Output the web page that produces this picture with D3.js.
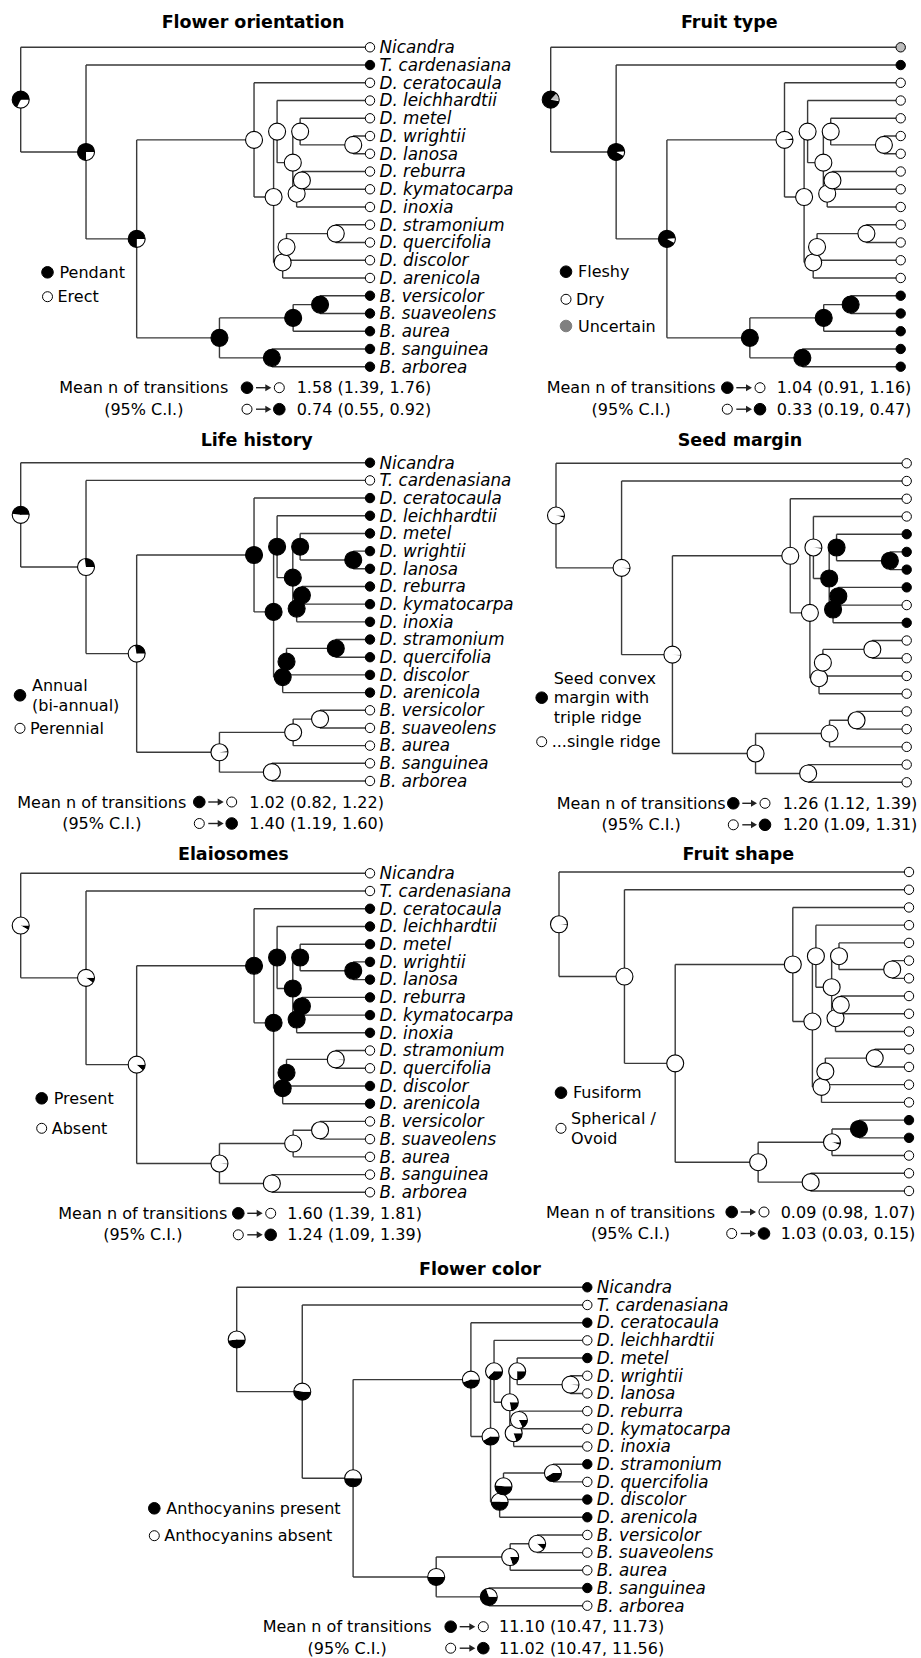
<!DOCTYPE html>
<html><head><meta charset="utf-8">
<script src="https://cdn.jsdelivr.net/npm/d3@7"></script>
<style>
body{margin:0;background:#fff}
text{font-family:"DejaVu Sans",Verdana,sans-serif;fill:#000}
</style>
</head><body>
<svg id="c" width="921" height="1658"></svg>
<script>
// ---------------- DATA ----------------
const taxa = ["Nicandra","T. cardenasiana","D. ceratocaula","D. leichhardtii","D. metel","D. wrightii","D. lanosa","D. reburra","D. kymatocarpa","D. inoxia","D. stramonium","D. quercifolia","D. discolor","D. arenicola","B. versicolor","B. suaveolens","B. aurea","B. sanguinea","B. arborea"];
const nodeIds = ["root","n2","n3","dat","datSub","leich","metRe","metel","wrLa","rebA","rebB","low1","low2","stQu","brug","brugA","veSu","saAr"];
const nodeDepth = [0,0.187,0.332,0.668,0.724,0.734,0.779,0.800,0.952,0.790,0.805,0.750,0.761,0.902,0.569,0.780,0.857,0.719];
const nodeChildren = [
  ["Nicandra","n2"],["T. cardenasiana","n3"],["dat","brug"],["D. ceratocaula","datSub"],
  ["leich","low1"],["D. leichhardtii","metRe"],["metel","rebA"],["D. metel","wrLa"],
  ["D. wrightii","D. lanosa"],["rebB","D. inoxia"],["D. reburra","D. kymatocarpa"],
  ["low2","D. arenicola"],["stQu","D. discolor"],["D. stramonium","D. quercifolia"],
  ["brugA","saAr"],["veSu","B. aurea"],["B. versicolor","B. suaveolens"],["B. sanguinea","B. arborea"]
];

// panel titles
const titles = ["Flower orientation","Fruit type","Life history","Seed margin","Elaiosomes","Fruit shape","Flower color"];

// state colours per panel (slice order, starting at 3 o'clock, clockwise)
const statesFO = ["#ffffff","#000000"];           // Erect, Pendant
const statesFT = ["#ffffff","#000000","#bdbdbd"]; // Dry, Fleshy, Uncertain
const statesLH = ["#ffffff","#000000"];           // Perennial, Annual
const statesSM = ["#000000","#ffffff"];           // triple, single
const statesEL = ["#000000","#ffffff"];           // Present, Absent
const statesFS = ["#000000","#ffffff"];           // Fusiform, Spherical
const statesFC = ["#000000","#ffffff"];           // present, absent

// tip states (index into state colours)
const tipsFO = [0,1,0,0,0,0,0,0,0,0,0,0,0,0,1,1,1,1,1];
const tipsFT = [2,1,0,0,0,0,0,0,0,0,0,0,0,0,1,1,1,1,1];
const tipsLH = [1,0,1,1,1,1,1,1,1,1,1,1,1,1,0,0,0,0,0];
const tipsSM = [1,1,1,1,0,0,0,0,1,0,1,1,1,1,1,1,1,1,1];
const tipsEL = [1,1,0,0,0,0,0,0,0,0,1,1,0,0,1,1,1,1,1];
const tipsFS = [1,1,1,1,1,1,1,1,1,1,1,1,1,1,0,0,1,1,1];
const tipsFC = [0,1,0,1,0,1,1,1,1,1,0,1,0,0,1,1,1,0,1];

// node probabilities of first state (node order = nodeIds)
const nodesFO = [0.32,0.25,0.25,1,1,1,1,1,1,1,1,1,1,1,0,0,0,0];
const nodesFT = [[0.03,0.84,0.13],[0.08,0.91,0.01],[0.08,0.91,0.01],[0.97,0.03,0],[1,0,0],[1,0,0],[1,0,0],[1,0,0],[1,0,0],[1,0,0],[1,0,0],[1,0,0],[1,0,0],[1,0,0],[0,1,0],[0,1,0],[0,1,0],[0,1,0]];
const nodesLH = [0.52,0.73,0.72,0,0,0,0,0,0,0,0,0,0,0,0.98,1,1,1];
const nodesSM = [0.04,0.02,0.02,0,0,0.03,1,1,1,1,1,0,0,0,0,0,0,0];
const nodesEL = [0.08,0.10,0.12,1,1,1,1,1,1,1,1,1,1,0.02,0.02,0,0,0];
const nodesFS = [0.02,0,0,0,0,0,0,0,0,0,0,0,0,0,0,0.05,1,0];
const nodesFC = [0.48,0.53,0.50,0.45,0.42,0.38,0.22,0.25,0.02,0.20,0.18,0.50,0.52,0.42,0.50,0.20,0.12,0.70];

// legends
const legendFO = [{fill:"#000",lines:["Pendant"]},{fill:"#fff",lines:["Erect"]}];
const legendFT = [{fill:"#000",lines:["Fleshy"]},{fill:"#fff",lines:["Dry"]},{fill:"#808080",lines:["Uncertain"]}];
const legendLH = [{fill:"#000",lines:["Annual","(bi-annual)"]},{fill:"#fff",lines:["Perennial"]}];
const legendSM = [{fill:"#000",lines:["Seed convex","margin with","triple ridge"]},{fill:"#fff",lines:["...single ridge"]}];
const legendEL = [{fill:"#000",lines:["Present"]},{fill:"#fff",lines:["Absent"]}];
const legendFS = [{fill:"#000",lines:["Fusiform"]},{fill:"#fff",lines:["Spherical /","Ovoid"]}];
const legendFC = [{fill:"#000",lines:["Anthocyanins present"]},{fill:"#fff",lines:["Anthocyanins absent"]}];

// mean n of transitions [mean, lo, hi]: row1 black->white, row2 white->black
const transFO = [[1.58,1.39,1.76],[0.74,0.55,0.92]];
const transFT = [[1.04,0.91,1.16],[0.33,0.19,0.47]];
const transLH = [[1.02,0.82,1.22],[1.40,1.19,1.60]];
const transSM = [[1.26,1.12,1.39],[1.20,1.09,1.31]];
const transEL = [[1.60,1.39,1.81],[1.24,1.09,1.39]];
const transFS = [[0.09,0.98,1.07],[1.03,0.03,0.15]];
const transFC = [[11.10,10.47,11.73],[11.02,10.47,11.56]];

// ---------------- LAYOUT ----------------
const layout = [
 {x0:20.7,x1:370,y0:47.3,yN:366.7,tx:253,ty:28,labels:true,legX:47.5,legY:[272.3,296.7],meanX:59.3,symA:247,symB:279.3,numX:296.7},
 {x0:550.7,x1:900.7,y0:47.3,yN:366.7,tx:729.3,ty:28,labels:false,legX:566,legY:[271.7,299.3,326],meanX:546.7,symA:727.3,symB:760,numX:776.7},
 {x0:20.7,x1:370,y0:462.7,yN:781,tx:256.7,ty:446,labels:true,legX:20,legY:[695.3,728.3],meanX:17.3,symA:199.3,symB:231.7,numX:249.3},
 {x0:556,x1:906.7,y0:463.3,yN:782.3,tx:740,ty:446,labels:false,legX:541.7,legY:[697.7,741.7],meanX:556.7,symA:733.3,symB:765,numX:782.7},
 {x0:20.7,x1:370,y0:873.3,yN:1192.3,tx:233.3,ty:859.5,labels:true,legX:41.7,legY:[1098.3,1128.3],meanX:58.3,symA:238.3,symB:270.7,numX:287.3},
 {x0:559,x1:909,y0:872,yN:1191,tx:738.3,ty:859.5,labels:false,legX:561,legY:[1092.7,1128.3],meanX:546,symA:731.7,symB:764,numX:780.7},
 {x0:236.7,x1:587.3,y0:1287.3,yN:1605.7,tx:480,ty:1275,labels:true,legX:154.3,legY:[1508.3,1535.7],meanX:262.7,symA:450.7,symB:483.3,numX:499}
];
const panelData = [
 {states:statesFO,tips:tipsFO,nodes:nodesFO,legend:legendFO,trans:transFO},
 {states:statesFT,tips:tipsFT,nodes:nodesFT,legend:legendFT,trans:transFT},
 {states:statesLH,tips:tipsLH,nodes:nodesLH,legend:legendLH,trans:transLH},
 {states:statesSM,tips:tipsSM,nodes:nodesSM,legend:legendSM,trans:transSM},
 {states:statesEL,tips:tipsEL,nodes:nodesEL,legend:legendEL,trans:transEL},
 {states:statesFS,tips:tipsFS,nodes:nodesFS,legend:legendFS,trans:transFS},
 {states:statesFC,tips:tipsFC,nodes:nodesFC,legend:legendFC,trans:transFC}
];

const svg = d3.select("#c");
const lineColor = "#3a3a3a";
const pieR = 8.5, tipR = 4.7;
const arc = d3.arc().innerRadius(0).outerRadius(pieR);
const pie = d3.pie().sort(null).value(d => d.v).startAngle(Math.PI/2).endAngle(Math.PI/2 + 2*Math.PI);

panelData.forEach((pd, k) => {
  const L = layout[k];
  const g = svg.append("g");
  const xs = d3.scaleLinear().domain([0,1]).range([L.x0, L.x1]);
  const ys = d3.scaleLinear().domain([0, taxa.length-1]).range([L.y0, L.yN]);

  // title
  g.append("text").attr("x", L.tx).attr("y", L.ty).attr("text-anchor","middle")
    .style("font-size","17.5px").style("font-weight","bold").text(titles[k]);

  // positions
  const pos = {};
  taxa.forEach((t,i) => pos[t] = {x: xs(1), y: ys(i)});
  function place(id){
    const i = nodeIds.indexOf(id);
    const ch = nodeChildren[i];
    ch.forEach(c => { if (!pos[c]) place(c); });
    pos[id] = {x: xs(nodeDepth[i]), y: (pos[ch[0]].y + pos[ch[ch.length-1]].y)/2};
  }
  place("root");

  // branches
  const path = d3.path();
  nodeIds.forEach((id,i) => {
    const ch = nodeChildren[i];
    const p = pos[id];
    path.moveTo(p.x, pos[ch[0]].y); path.lineTo(p.x, pos[ch[ch.length-1]].y);
    ch.forEach(c => { path.moveTo(p.x, pos[c].y); path.lineTo(pos[c].x, pos[c].y); });
  });
  g.append("path").attr("d", path.toString()).attr("fill","none")
    .attr("stroke", lineColor).attr("stroke-width",1.4);

  // node pies
  nodeIds.forEach((id,i) => {
    const raw = pd.nodes[i];
    const probs = Array.isArray(raw) ? raw : [raw, 1-raw];
    const data = probs.map((v,j) => ({v, c: pd.states[j]})).filter(d => d.v > 0);
    const ng = g.append("g").attr("transform", `translate(${pos[id].x},${pos[id].y})`);
    ng.selectAll("path").data(pie(data)).join("path")
      .attr("d", arc).attr("fill", d => d.data.c).attr("stroke","none");
    ng.append("circle").attr("r", pieR).attr("fill","none").attr("stroke","#000").attr("stroke-width",1.1);
  });

  // tips
  taxa.forEach((t,i) => {
    g.append("circle").attr("cx", pos[t].x).attr("cy", pos[t].y).attr("r", tipR)
      .attr("fill", pd.states[pd.tips[i]]).attr("stroke","#000").attr("stroke-width",1);
    if (L.labels) {
      g.append("text").attr("x", pos[t].x + 9.5).attr("y", pos[t].y + 5.8)
        .style("font-size","16.8px").style("font-style","italic").text(t);
    }
  });

  // legend
  pd.legend.forEach((it, j) => {
    const cy = L.legY[j];
    const black = it.fill !== "#fff";
    g.append("circle").attr("cx", L.legX).attr("cy", cy).attr("r", black ? 5.8 : 5)
      .attr("fill", it.fill).attr("stroke", it.fill === "#fff" ? "#000" : it.fill).attr("stroke-width",1);
    const n = it.lines.length;
    it.lines.forEach((ln, m) => {
      g.append("text").attr("x", L.legX + (black ? 12 : 10))
        .attr("y", cy + 5.5 - (n-1)/2*19.5 + m*19.5)
        .style("font-size","16px").text(ln);
    });
  });

  // transitions
  const r1 = L.yN + 21, r2 = L.yN + 42.5;
  const mt = g.append("text").attr("x", L.meanX).attr("y", r1 + 5.5).style("font-size","16px").text("Mean n of transitions");
  const w = mt.node().getComputedTextLength();
  g.append("text").attr("x", L.meanX + w/2).attr("y", r2 + 5.5).attr("text-anchor","middle")
    .style("font-size","16px").text("(95% C.I.)");
  [[r1,"#000","#fff"],[r2,"#fff","#000"]].forEach(([yy, cA, cB], j) => {
    g.append("circle").attr("cx", L.symA).attr("cy", yy).attr("r", cA === "#000" ? 5.8 : 5)
      .attr("fill", cA).attr("stroke","#000").attr("stroke-width",1);
    g.append("circle").attr("cx", L.symB).attr("cy", yy).attr("r", cB === "#000" ? 5.8 : 5)
      .attr("fill", cB).attr("stroke","#000").attr("stroke-width",1);
    g.append("line").attr("x1", L.symA + 9).attr("x2", L.symB - 11).attr("y1", yy).attr("y2", yy)
      .attr("stroke","#222").attr("stroke-width",1.4);
    g.append("path").attr("d", `M${L.symB-14},${yy-3.5}L${L.symB-8},${yy}L${L.symB-14},${yy+3.5}Z`).attr("fill","#222");
    const t = pd.trans[j];
    g.append("text").attr("x", L.numX).attr("y", yy + 5.5).style("font-size","16px")
      .text(`${t[0].toFixed(2)} (${t[1].toFixed(2)}, ${t[2].toFixed(2)})`);
  });
});
</script>
</body></html>
